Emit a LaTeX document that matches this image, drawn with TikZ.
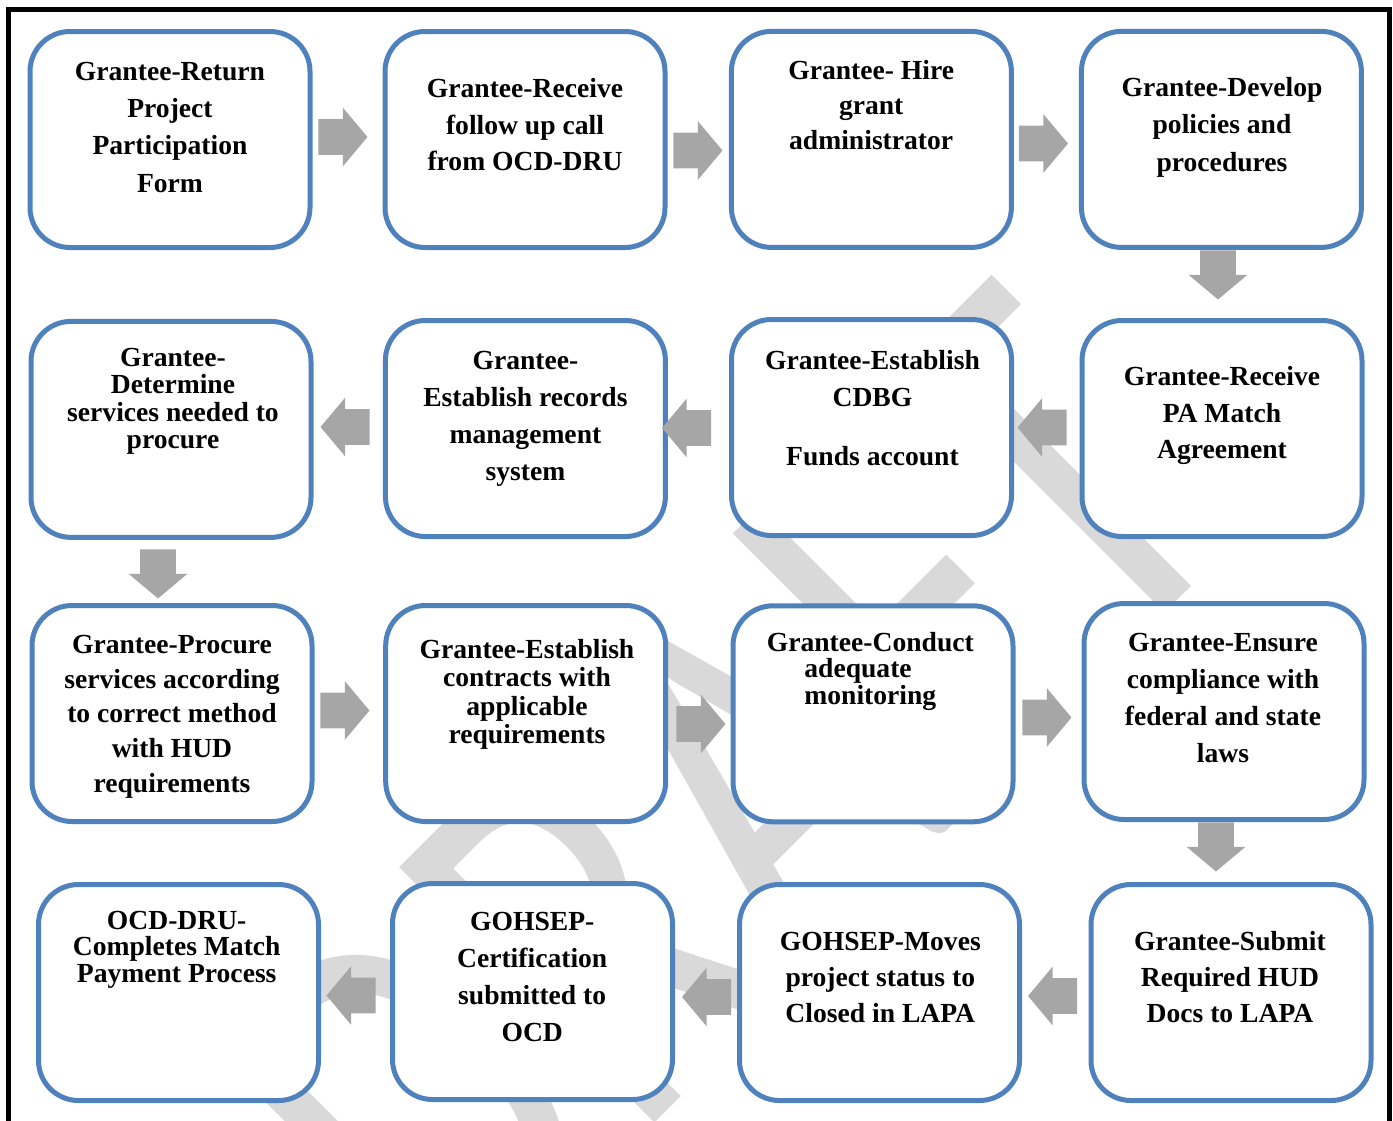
\documentclass[tikz,border=0pt]{standalone}
\usepackage{fontspec}
\setmainfont{Liberation Serif}
\newfontfamily\wmfont{Carlito}
\usepackage{graphicx}
\usetikzlibrary{shapes.arrows}
\definecolor{boxblue}{HTML}{4F81BD}
\definecolor{arrgray}{HTML}{A6A6A6}
\definecolor{wmgray}{HTML}{D9D9D9}
\newcommand\stk[2]{\vtop{\baselineskip=#1\lineskiplimit=-\maxdimen\lineskip=0pt\halign{\hfil##\hfil\cr#2\crcr}}}
\newcommand\stkl[2]{\vtop{\baselineskip=#1\lineskiplimit=-\maxdimen\lineskip=0pt\halign{##\hfil\cr#2\crcr}}}
\begin{document}
\begin{tikzpicture}[x=0.5pt,y=-0.5pt,
  box/.style={rectangle, rounded corners=20pt, draw=boxblue, line width=2.5pt, fill=white,
              minimum width=140pt, minimum height=108pt, inner sep=0pt},
  txt/.style={inner sep=0pt, anchor=base, font=\bfseries\fontsize{13.8pt}{16pt}\selectfont},
  blk/.style={single arrow, fill=arrgray, draw=none,
              minimum height=24.5pt, single arrow head extend=5.75pt, single arrow tip angle=100, anchor=tip},
  rgt/.style={blk, inner xsep=0pt, inner ysep=8.75pt, shape border rotate=0},
  lft/.style={blk, inner xsep=0pt, inner ysep=8.75pt, shape border rotate=180},
  dwn/.style={blk, inner xsep=8.75pt, inner ysep=0pt, shape border rotate=270}]

\useasboundingbox (0,0) rectangle (1393,1120);
\clip (0,0) rectangle (1393,1120);

% watermark
\node[rotate=45, anchor=base west, inner sep=0pt, text=wmgray,
      font=\wmfont\fontsize{281.5pt}{300pt}\selectfont] (wm) at (450,1328) {\scalebox{0.75}[1]{DRAFT}};

% boxes
\node[box] (b1)  at (170,139.5) {};
\node[box] (b2)  at (525,139.5) {};
\node[box] (b3)  at (871.4,139.4) {};
\node[box] (b4)  at (1221.4,139.4) {};
\node[box] (b5)  at (171,429.4) {};
\node[box] (b6)  at (525.4,428.5) {};
\node[box] (b7)  at (871.5,427.5) {};
\node[box] (b8)  at (1222,428.5) {};
\node[box] (b9)  at (172,713.5) {};
\node[box] (b10) at (525.7,713.5) {};
\node[box] (b11) at (873,713.8) {};
\node[box] (b12) at (1224,711.5) {};
\node[box] (b13) at (1231,992.5) {};
\node[box] (b14) at (879.5,992.5) {};
\node[box] (b15) at (532.5,991.5) {};
\node[box] (b16) at (178.5,992.5) {};

% texts
\node[txt] (t1) at (170,80) {\stk{18.7pt}{Grantee-Return\cr Project\cr Participation\cr Form}};
\node[txt] (t2) at (525,97.3) {\stk{18.4pt}{Grantee-Receive\cr follow up call\cr from OCD-DRU}};
\node[txt] (t3) at (871.2,79.3) {\stk{17.5pt}{Grantee- Hire\cr grant\cr administrator}};
\node[txt] (t4) at (1222,96.7) {\stk{18.6pt}{Grantee-Develop\cr policies and\cr procedures}};
\node[txt] (t5) at (173,366.7) {\stk{13.6pt}{Grantee-\cr Determine\cr services needed to\cr procure}};
\node[txt] (t6) at (525.4,369.3) {\stk{18.5pt}{Grantee-\cr Establish records\cr management\cr system}};
\node[txt] (t7) at (872.5,369.4) {\stk{18.3pt}{Grantee-Establish\cr CDBG}};
\node[txt] (t7f) at (872.5,465.5) {Funds account};
\node[txt] (t8) at (1222,385.9) {\stk{18.2pt}{Grantee-Receive\cr PA Match\cr Agreement}};
\node[txt] (t9) at (172,653.3) {\stk{17.4pt}{Grantee-Procure\cr services according\cr to correct method\cr with HUD\cr requirements}};
\node[txt] (t10) at (527,658.7) {\stk{14.1pt}{Grantee-Establish\cr contracts with\cr applicable\cr requirements}};
\node[txt] (t11) at (870.3,651) {Grantee-Conduct};
\node[txt, anchor=base west] (t11b) at (804,677.5) {\stkl{13.5pt}{adequate\cr monitoring}};
\node[txt] (t12) at (1223,651.8) {\stk{18.4pt}{Grantee-Ensure\cr compliance with\cr federal and state\cr laws}};
\node[txt] (t13) at (1230,950) {\stk{18.2pt}{Grantee-Submit\cr Required HUD\cr Docs to LAPA}};
\node[txt] (t14) at (880.3,950) {\stk{18pt}{GOHSEP-Moves\cr project status to\cr Closed in LAPA}};
\node[txt] (t15) at (532.2,930.7) {\stk{18.4pt}{GOHSEP-\cr Certification\cr submitted to\cr OCD}};
\node[txt] (t16) at (176.7,929) {\stk{13.35pt}{OCD-DRU-\cr Completes Match\cr Payment Process}};

% block arrows
\node[rgt] (a1)  at (368,137) {};
\node[rgt] (a2)  at (723,150.5) {};
\node[rgt] (a3)  at (1068.5,143.5) {};
\node[dwn] (a4)  at (1218,300) {};
\node[lft] (a5)  at (1017,427.5) {};
\node[lft] (a6)  at (661.5,428) {};
\node[lft] (a7)  at (320,427) {};
\node[dwn] (a8)  at (158,599) {};
\node[rgt] (a9)  at (370,710.5) {};
\node[rgt] (a10) at (726,724) {};
\node[rgt] (a11) at (1072,717.5) {};
\node[dwn] (a12) at (1216,872) {};
\node[lft] (a13) at (1027.5,996) {};
\node[lft] (a14) at (681.5,997) {};
\node[lft] (a15) at (326,995.5) {};

% frame
\coordinate (fbl) at (8,1130);
\coordinate (ftl) at (8,9.5);
\coordinate (ftr) at (1389.5,9.5);
\coordinate (fbr) at (1389.5,1130);
\draw[line width=2.5pt] (fbl) -- (ftl) -- (ftr) -- (fbr);
\end{tikzpicture}
\end{document}
